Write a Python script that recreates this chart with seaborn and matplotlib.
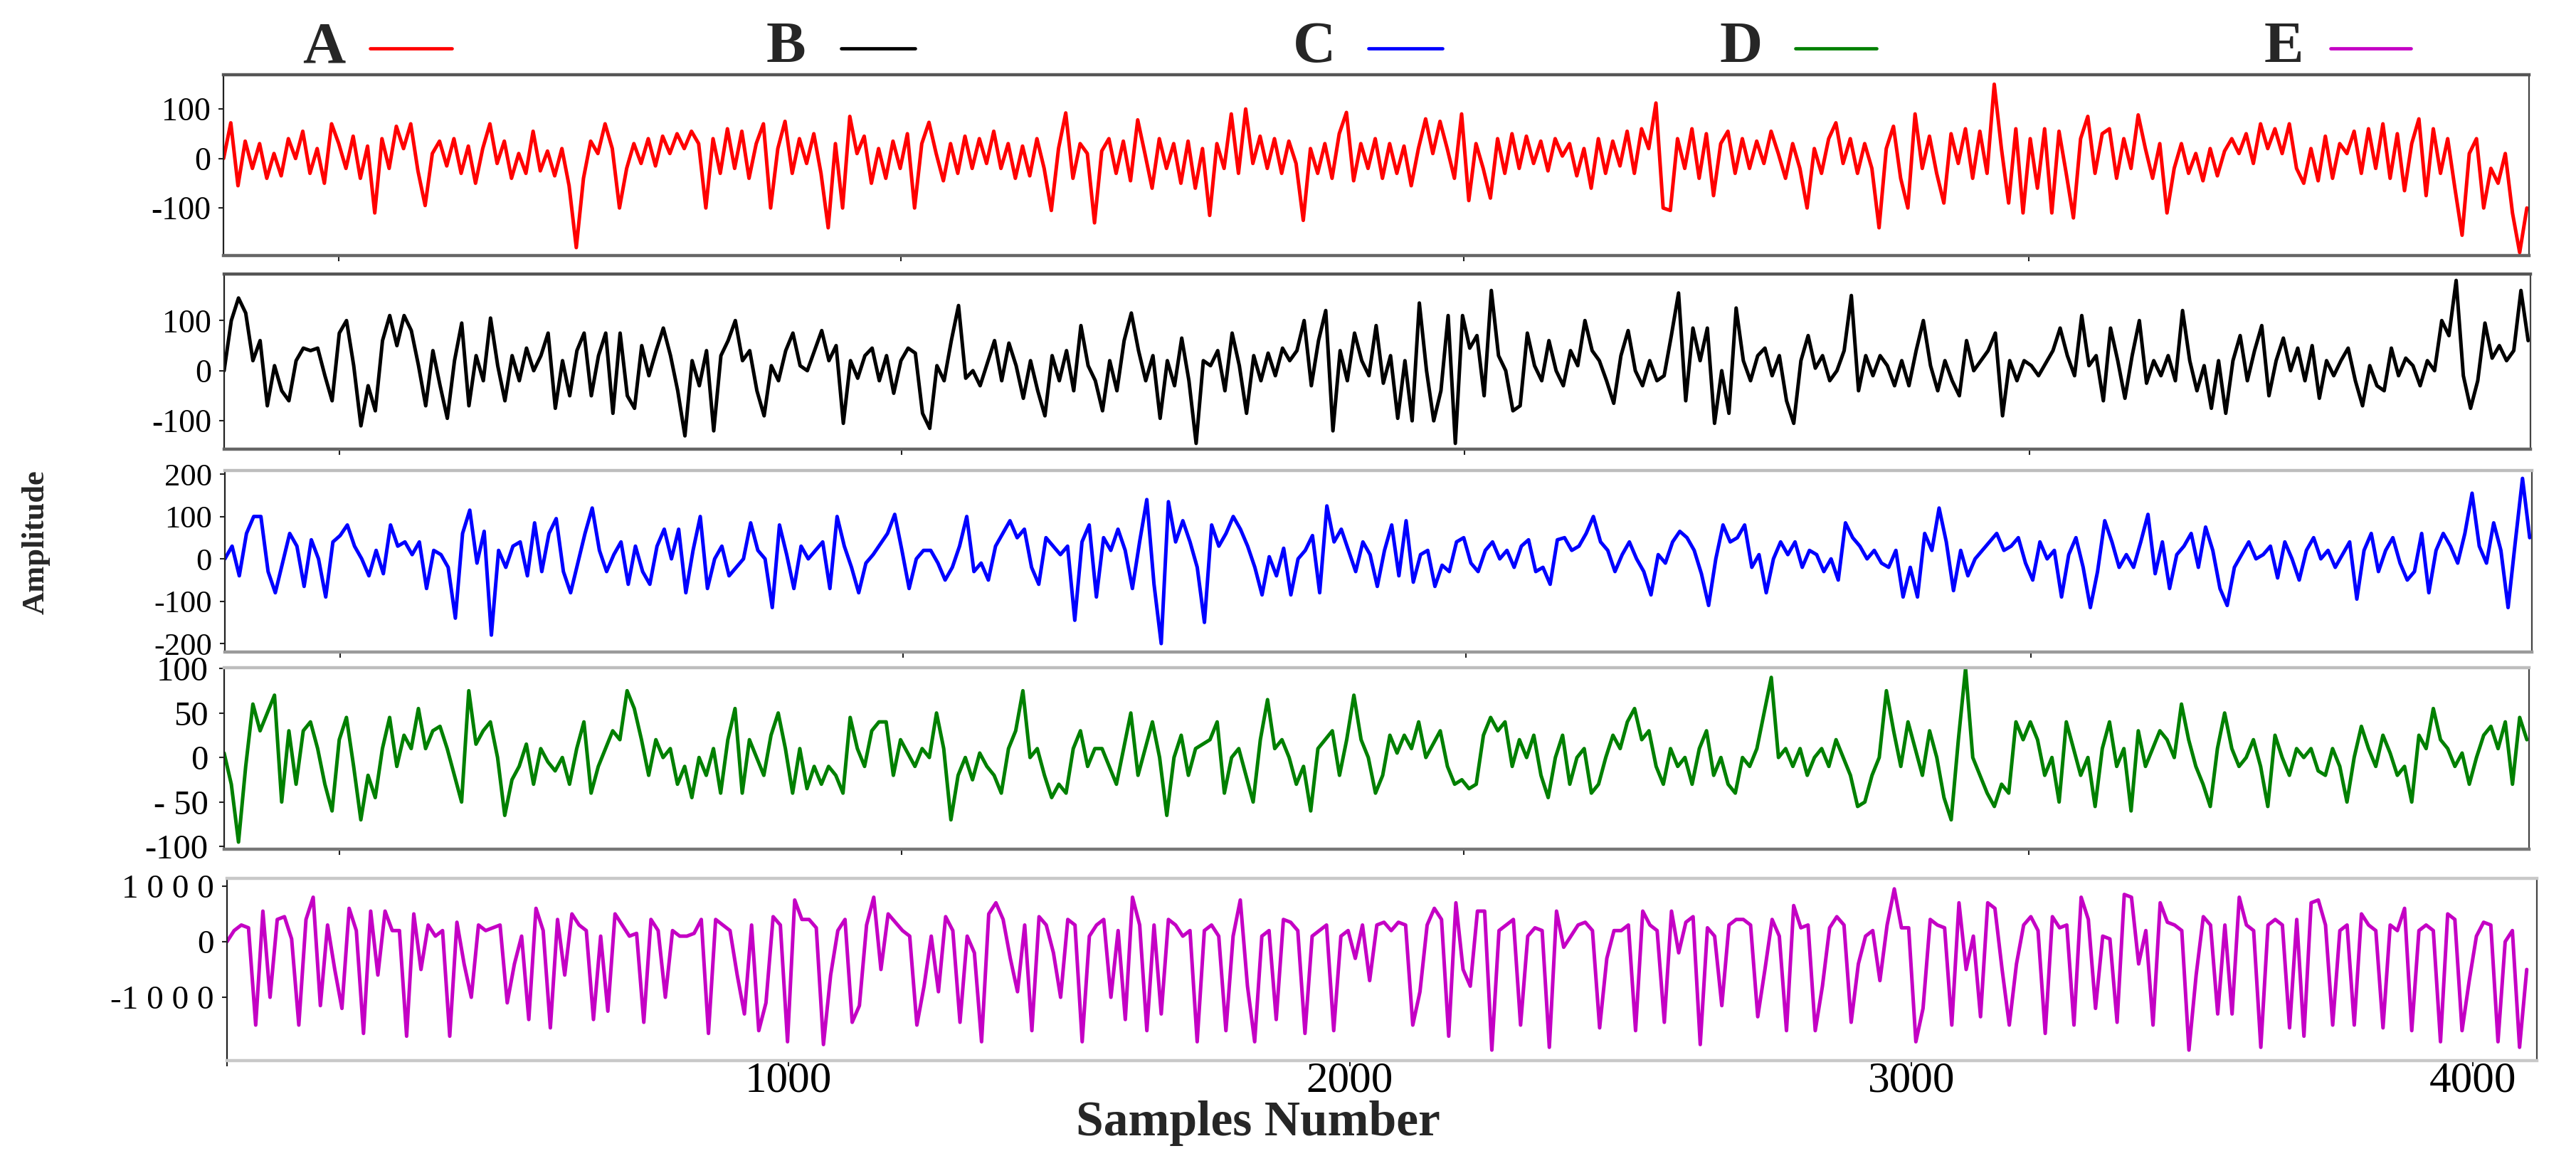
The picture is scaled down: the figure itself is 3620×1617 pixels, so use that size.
import matplotlib
matplotlib.use('Agg')
import numpy as np
import pandas as pd
import matplotlib.pyplot as plt
import seaborn as sns
from matplotlib.lines import Line2D

# EEG sets A..E, 4097 samples each (one every ~12.8 samples)
N_SAMPLES = 4097
SET_NAMES = ['A', 'B', 'C', 'D', 'E']
SET_COLORS = ['#ff0000', '#000000', '#0000ff', '#008000', '#c400c4']

sig_a = [
    0, 72, -55, 35, -20, 30, -40, 10, -35, 40, 0, 55, -30, 20, -50, 70, 30, -20, 45, -40,
    25, -110, 40, -20, 65, 20, 70, -25, -95, 10, 35, -15, 40, -30, 25, -50, 20, 70, -10, 35,
    -40, 10, -30, 55, -25, 15, -35, 20, -55, -180, -40, 35, 10, 70, 20, -100, -20, 30, -10, 40,
    -15, 45, 10, 50, 20, 55, 30, -100, 40, -30, 60, -20, 55, -40, 30, 70, -100, 20, 75, -30,
    40, -10, 50, -30, -140, 30, -100, 85, 10, 45, -50, 20, -40, 35, -20, 50, -100, 30, 73, 10,
    -45, 30, -30, 45, -20, 40, -10, 55, -20, 30, -40, 25, -35, 40, -20, -105, 20, 92, -40, 30,
    10, -130, 15, 40, -30, 35, -45, 78, 10, -60, 40, -20, 30, -50, 35, -60, 20, -115, 30, -20,
    90, -30, 100, -10, 45, -20, 40, -30, 35, -10, -125, 20, -30, 30, -40, 50, 93, -45, 30, -20,
    40, -40, 30, -30, 25, -55, 20, 80, 10, 75, 20, -40, 90, -85, 30, -20, -80, 40, -30, 50,
    -20, 45, -10, 35, -25, 40, 5, 30, -35, 20, -60, 40, -30, 35, -15, 55, -30, 60, 20, 112,
    -100, -105, 40, -20, 60, -40, 50, -75, 30, 55, -30, 40, -20, 35, -10, 55, 10, -40, 30, -20,
    -100, 20, -30, 40, 72, -10, 40, -30, 30, -20, -140, 20, 65, -40, -100, 90, -20, 45, -30, -90,
    50, -10, 60, -40, 55, -30, 150, 20, -90, 60, -110, 40, -60, 60, -110, 55, -30, -120, 40, 85,
    -30, 50, 60, -40, 40, -20, 88, 20, -40, 30, -110, -20, 30, -30, 10, -45, 20, -35, 15, 40,
    10, 50, -10, 70, 20, 60, 10, 70, -20, -50, 20, -45, 45, -40, 30, 10, 55, -30, 60, -20,
    70, -40, 50, -65, 30, 80, -75, 60, -30, 40, -60, -155, 10, 40, -100, -20, -50, 10, -110, -190,
    -100,
]

sig_b = [
    0, 100, 145, 115, 20, 60, -70, 10, -40, -60, 20, 45, 40, 45, -10, -60, 75, 100, 10, -110,
    -30, -80, 60, 110, 50, 110, 80, 10, -70, 40, -30, -95, 20, 95, -70, 30, -20, 105, 10, -60,
    30, -20, 45, 0, 30, 75, -75, 20, -50, 40, 75, -50, 30, 75, -85, 75, -50, -75, 50, -10,
    40, 85, 30, -40, -130, 20, -30, 40, -120, 30, 60, 100, 20, 40, -40, -90, 10, -20, 40, 75,
    10, 0, 40, 80, 20, 50, -105, 20, -15, 30, 45, -20, 30, -45, 20, 45, 35, -85, -115, 10,
    -20, 60, 130, -15, 0, -30, 15, 60, -20, 55, 10, -55, 20, -40, -90, 30, -20, 40, -40, 90,
    10, -20, -80, 20, -40, 60, 115, 40, -20, 30, -95, 20, -30, 65, -20, -145, 20, 10, 40, -40,
    75, 10, -85, 30, -20, 35, -10, 45, 20, 40, 100, -30, 60, 120, -120, 40, -20, 75, 20, -10,
    90, -25, 30, -95, 20, -100, 135, 0, -100, -40, 110, -145, 110, 45, 70, -50, 160, 30, 0, -80,
    -70, 75, 10, -20, 60, 0, -30, 40, 10, 100, 40, 20, -20, -65, 30, 80, 0, -30, 20, -20,
    -10, 70, 155, -60, 85, 20, 85, -105, 0, -85, 125, 20, -20, 30, 45, -10, 30, -60, -105, 20,
    70, 5, 30, -20, 0, 40, 150, -40, 30, -10, 30, 10, -30, 20, -30, 40, 100, 10, -40, 20,
    -20, -50, 60, 0, 20, 40, 75, -90, 20, -20, 20, 10, -10, 15, 40, 85, 30, -10, 110, 10,
    30, -60, 85, 20, -55, 30, 100, -25, 20, -10, 30, -20, 120, 20, -40, 10, -75, 20, -85, 20,
    70, -20, 40, 90, -50, 20, 65, 0, 45, -20, 50, -55, 20, -10, 20, 45, -20, -70, 10, -30,
    -40, 45, -10, 25, 10, -30, 20, 0, 100, 70, 180, -10, -75, -20, 95, 25, 50, 20, 40, 160,
    60,
]

sig_c = [
    0, 30, -40, 60, 100, 100, -30, -80, -10, 60, 30, -65, 45, 0, -90, 40, 55, 80, 30, 0,
    -40, 20, -35, 80, 30, 40, 10, 40, -70, 20, 10, -20, -140, 60, 115, -10, 65, -180, 20, -20,
    30, 40, -40, 85, -30, 60, 95, -30, -80, -10, 60, 120, 20, -30, 10, 40, -60, 30, -30, -60,
    30, 70, 0, 70, -80, 20, 100, -70, 0, 30, -40, -20, 0, 85, 20, 0, -115, 80, 10, -70,
    30, 0, 20, 40, -70, 100, 30, -20, -80, -10, 10, 35, 60, 105, 20, -70, 0, 20, 20, -10,
    -50, -20, 30, 100, -30, -10, -50, 30, 60, 90, 50, 70, -20, -60, 50, 30, 10, 30, -145, 40,
    80, -90, 50, 20, 70, 20, -70, 40, 140, -60, -200, 135, 40, 90, 40, -20, -150, 80, 30, 60,
    100, 70, 30, -20, -85, 5, -40, 25, -85, 0, 20, 55, -80, 125, 40, 70, 20, -30, 40, 10,
    -65, 20, 80, -40, 90, -55, 10, 20, -65, -15, -30, 40, 50, -10, -30, 20, 40, 0, 20, -20,
    30, 45, -30, -20, -60, 45, 50, 20, 30, 60, 100, 40, 20, -30, 10, 40, 0, -30, -85, 10,
    -10, 40, 65, 50, 20, -35, -110, 0, 80, 40, 50, 80, -20, 10, -80, 0, 40, 10, 40, -20,
    20, 10, -30, 0, -50, 85, 50, 30, 0, 20, -10, -20, 20, -90, -20, -90, 60, 20, 120, 40,
    -75, 20, -40, 0, 20, 40, 60, 20, 30, 50, -10, -50, 40, 0, 20, -90, 10, 50, -20, -115,
    -30, 90, 40, -20, 10, -20, 40, 105, -35, 40, -70, 10, 30, 60, -20, 75, 20, -70, -110, -20,
    10, 40, 0, 10, 30, -45, 40, 0, -50, 20, 50, 0, 20, -20, 10, 40, -95, 20, 60, -30,
    20, 50, -10, -50, -30, 60, -80, 20, 60, 30, -10, 60, 155, 30, -10, 85, 20, -115, 40, 190,
    50,
]

sig_d = [
    5, -30, -95, -10, 60, 30, 50, 70, -50, 30, -30, 30, 40, 10, -30, -60, 20, 45, -10, -70,
    -20, -45, 10, 45, -10, 25, 10, 55, 10, 30, 35, 10, -20, -50, 75, 15, 30, 40, 0, -65,
    -25, -10, 15, -30, 10, -5, -15, 0, -30, 10, 40, -40, -10, 10, 30, 20, 75, 55, 20, -20,
    20, 0, 10, -30, -10, -45, 0, -20, 10, -40, 20, 55, -40, 20, 0, -20, 25, 50, 10, -40,
    10, -35, -10, -30, -10, -20, -40, 45, 10, -10, 30, 40, 40, -20, 20, 5, -10, 10, 0, 50,
    10, -70, -20, 0, -25, 5, -10, -20, -40, 10, 30, 75, 0, 10, -20, -45, -30, -40, 10, 30,
    -10, 10, 10, -10, -30, 10, 50, -20, 10, 40, 0, -65, 0, 25, -20, 10, 15, 20, 40, -40,
    0, 10, -20, -50, 20, 65, 10, 20, 0, -30, -10, -60, 10, 20, 30, -20, 20, 70, 20, 0,
    -40, -20, 25, 5, 25, 10, 40, 0, 15, 30, -10, -30, -25, -35, -30, 25, 45, 30, 40, -10,
    20, 0, 25, -20, -45, 0, 25, -30, 0, 10, -40, -30, 0, 25, 10, 40, 55, 20, 30, -10,
    -30, 10, -10, 0, -30, 10, 30, -20, 0, -30, -40, 0, -10, 10, 50, 90, 0, 10, -10, 10,
    -20, 0, 10, -10, 20, 0, -20, -55, -50, -20, 0, 75, 30, -10, 40, 10, -20, 30, 0, -45,
    -70, 20, 100, 0, -20, -40, -55, -30, -40, 40, 20, 40, 20, -20, 0, -50, 40, 10, -20, 0,
    -55, 10, 40, -10, 10, -60, 30, -10, 10, 30, 20, 0, 60, 20, -10, -30, -55, 10, 50, 10,
    -10, 0, 20, -10, -55, 25, 0, -20, 10, 0, 10, -15, -20, 10, -10, -50, 0, 35, 10, -10,
    25, 5, -20, -10, -50, 25, 10, 55, 20, 10, -10, 5, -30, 0, 25, 35, 10, 40, -30, 45,
    20,
]

sig_e = [
    0, 200, 300, 250, -1500, 550, -1000, 400, 450, 50, -1500, 400, 800, -1150, 300, -500, -1200, 600, 200, -1650,
    550, -600, 550, 200, 200, -1700, 500, -500, 300, 100, 200, -1700, 350, -400, -1000, 300, 200, 250, 300, -1100,
    -400, 100, -1400, 600, 200, -1550, 400, -600, 500, 300, 200, -1400, 100, -1250, 500, 300, 100, 150, -1450, 400,
    200, -1000, 200, 100, 100, 150, 400, -1650, 400, 300, 200, -600, -1300, 300, -1600, -1100, 450, 300, -1800, 750,
    400, 400, 250, -1850, -600, 200, 400, -1450, -1150, 300, 800, -500, 500, 350, 200, 100, -1500, -800, 100, -900,
    450, 200, -1450, 100, -200, -1800, 500, 700, 400, -300, -900, 300, -1600, 450, 300, -200, -1000, 400, 300, -1800,
    100, 300, 400, -1000, 200, -1400, 800, 300, -1600, 300, -1300, 400, 300, 100, 200, -1800, 200, 300, 100, -1600,
    100, 750, -800, -1800, 100, 200, -1400, 400, 350, 200, -1650, 100, 200, 300, -1600, 100, 200, -300, 300, -700,
    300, 350, 200, 350, 300, -1500, -900, 300, 600, 400, -1700, 700, -500, -800, 550, 550, -1950, 200, 300, 400,
    -1500, 100, 250, 200, -1900, 550, -100, 100, 300, 350, 200, -1550, -300, 200, 200, 300, -1600, 550, 300, 200,
    -1450, 550, -200, 350, 450, -1850, 250, 100, -1150, 300, 400, 400, 300, -1350, -500, 400, 100, -1600, 650, 250,
    300, -1600, -800, 250, 450, 300, -1450, -400, 100, 200, -700, 300, 950, 250, 250, -1800, -1200, 400, 300, 250,
    -1500, 700, -500, 100, -1350, 700, 600, -500, -1500, -400, 300, 450, 200, -1650, 450, 250, 300, -1500, 800, 400,
    -1200, 100, 50, -1450, 850, 800, -400, 200, -1500, 700, 350, 300, 200, -1950, -600, 450, 300, -1300, 300, -1300,
    800, 300, 200, -1900, 300, 400, 300, -1550, 400, -1700, 700, 750, 300, -1500, 200, 300, -1500, 500, 300, 200,
    -1550, 300, 200, 600, -1600, 200, 300, 200, -1800, 500, 400, -1600, -700, 100, 350, 300, -1800, 0, 200, -1900,
    -500,
]

signals = [sig_a, sig_b, sig_c, sig_d, sig_e]

# axis limits / ticks per panel
y_limits = [(-196, 169), (-156, 193), (-220, 208), (-103, 101), (-2140, 1140)]
y_ticks = [[-100, 0, 100], [-100, 0, 100], [-200, -100, 0, 100, 200],
           [-100, -50, 0, 50, 100], [-1000, 0, 1000]]
y_tick_labels = [['-100', '0', '100'], ['-100', '0', '100'],
                 ['-200', '-100', '0', '100', '200'],
                 ['-100', '- 50', '0', '50', '100'],
                 ['-1 0 0 0', '0', '1 0 0 0']]
x_ticks_bottom = [0, 1000, 2000, 3000, 4000]
x_tick_labels_bottom = ['', '1000', '2000', '3000', '4000']
x_ticks_upper = [205, 1205, 2205, 3210]

sns.set_theme(style='ticks')
plt.rcParams['font.family'] = ['Liberation Serif', 'DejaVu Serif']
plt.rcParams['axes.unicode_minus'] = False

fig = plt.figure(figsize=(36.2, 16.17), dpi=100)

# panel rectangles (figure fraction) and a rough copy of the scanned frame shades
rects = [
    [0.0868, 0.7780, 0.8950, 0.1570],
    [0.0870, 0.6100, 0.8953, 0.1520],
    [0.0873, 0.4335, 0.8956, 0.1575],
    [0.0870, 0.2622, 0.8948, 0.1578],
    [0.0881, 0.0785, 0.8967, 0.1584],
]
frame_top = ['#555555', '#555555', '#bdbdbd', '#bdbdbd', '#c8c8c8']
frame_bottom = ['#666666', '#666666', '#9a9a9a', '#777777', '#c8c8c8']
ytick_size = [33, 33, 32, 35, 34]
ytick_pad = [8, 8, 8, 11, 8]

for k, vals in enumerate(signals):
    ax = fig.add_axes(rects[k])
    df = pd.DataFrame({'sample': np.linspace(0, N_SAMPLES - 1, len(vals)), 'amp': vals})
    sns.lineplot(data=df, x='sample', y='amp', ax=ax, color=SET_COLORS[k],
                 linewidth=3.6, legend=False)

    ax.set_ylim(*y_limits[k])
    ax.set_yticks(y_ticks[k])
    ax.set_yticklabels(y_tick_labels[k], fontsize=ytick_size[k])
    ax.set_xlabel('')
    ax.set_ylabel('')

    if k == 4:
        ax.set_xlim(0, 4114)
        ax.set_xticks(x_ticks_bottom)
        ax.set_xticklabels(x_tick_labels_bottom, fontsize=44)
    else:
        ax.set_xlim(0, 4100)
        ax.set_xticks(x_ticks_upper)
        ax.set_xticklabels([])

    ax.tick_params(axis='y', direction='out', length=5, width=1.5, pad=ytick_pad[k],
                   colors='#222222', labelcolor='black')
    ax.tick_params(axis='x', direction='out', length=6, width=1.5, pad=-5,
                   colors='#222222', labelcolor='black')

    ax.spines['top'].set_color(frame_top[k])
    ax.spines['top'].set_linewidth(3.2)
    ax.spines['bottom'].set_color(frame_bottom[k])
    ax.spines['bottom'].set_linewidth(3.2)
    ax.spines['left'].set_color('#222222')
    ax.spines['left'].set_linewidth(1.6)
    ax.spines['right'].set_color('#444444')
    ax.spines['right'].set_linewidth(1.6)
    ax.grid(False)

# axis titles
fig.text(0.0141, 0.529, 'Amplitude', rotation=90, ha='center', va='center',
         fontsize=32, fontweight='bold')
fig.text(0.4885, 0.0240, 'Samples Number', ha='center', va='center',
         fontsize=50, fontweight='bold')

# legend row at the top: letter then a short coloured line
legend_letter_x = [0.1257, 0.3050, 0.5102, 0.6760, 0.8865]
legend_line_x = [(0.1436, 0.1754), (0.3265, 0.3552), (0.5312, 0.5599),
                 (0.6970, 0.7285), (0.9047, 0.9359)]
legend_y = 0.958
for name, color, lx, (x0, x1) in zip(SET_NAMES, SET_COLORS, legend_letter_x, legend_line_x):
    fig.text(lx, legend_y, name, ha='center', va='center', fontsize=60, fontweight='bold')
    fig.add_artist(Line2D([x0, x1], [legend_y, legend_y], transform=fig.transFigure,
                          color=color, linewidth=3.4))

fig.savefig('out.png', dpi=100)
